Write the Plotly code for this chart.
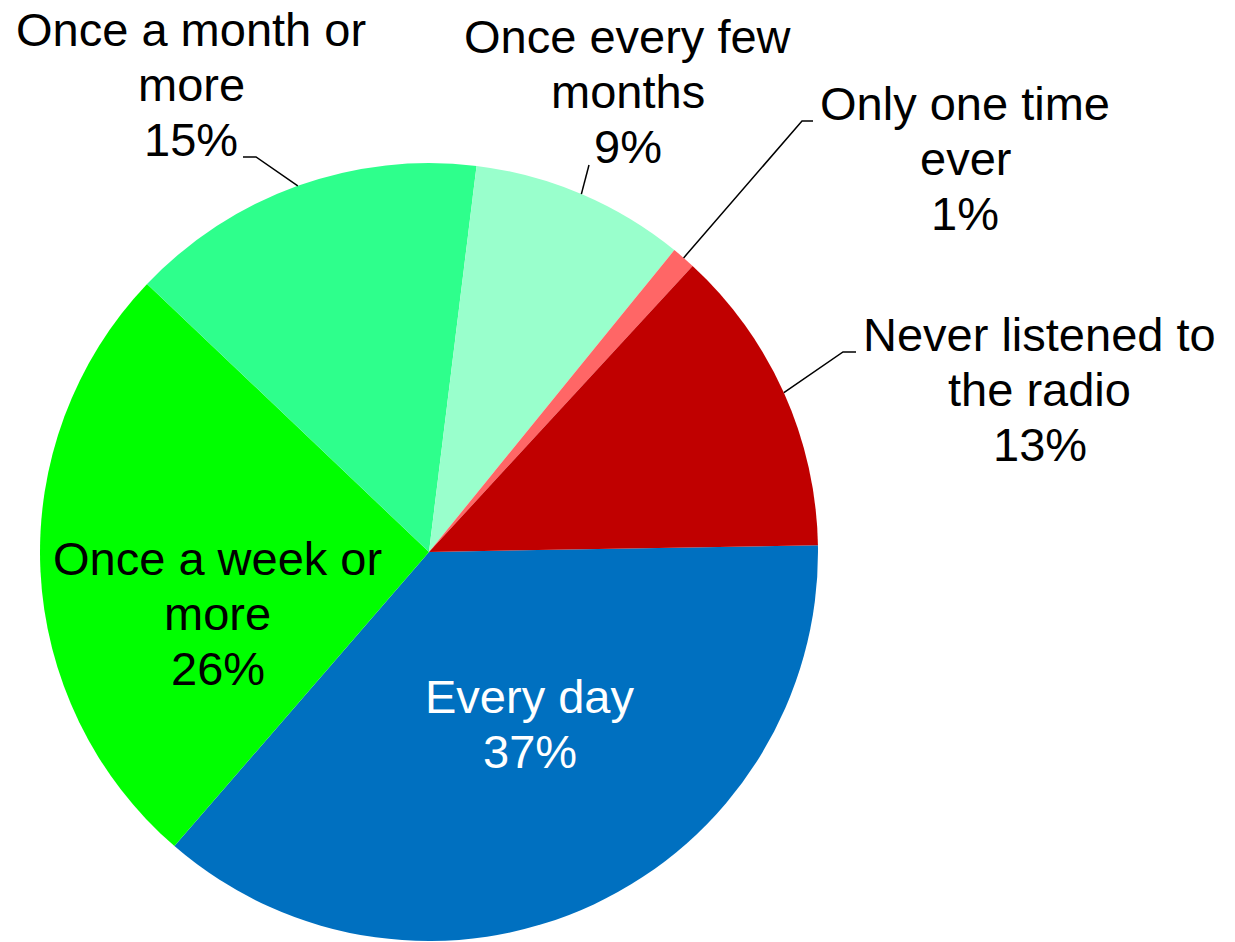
import math
import plotly.graph_objects as go

# Survey answers, clockwise from 3 o'clock
categories = [
    "Every day",
    "Once a week or more",
    "Once a month or more",
    "Once every few months",
    "Only one time ever",
    "Never listened to the radio",
]
shares = [37, 26, 15, 9, 1, 13]
colors = ["#0070C0", "#00FF00", "#2EFF8C", "#99FFCC", "#FF6666", "#C00000"]

# ---- layout (pixels in a 1235 x 942 canvas) ----
W, H = 1235, 942
CX, CY, R = 429, 552, 389          # pie centre and radius
ROTATION = 89                      # start angle of the first slice, clockwise from 12 o'clock
FONT = "Liberation Sans, Arial, Helvetica, sans-serif"
FS = 47
LINE_STEP = 55

wrapped = {
    "Every day": ["Every day"],
    "Once a week or more": ["Once a week or", "more"],
    "Once a month or more": ["Once a month or", "more"],
    "Once every few months": ["Once every few", "months"],
    "Only one time ever": ["Only one time", "ever"],
    "Never listened to the radio": ["Never listened to", "the radio"],
}
# label centre x and first-line baseline y
label_pos = {
    "Every day": (529.5, 713),
    "Once a week or more": (217.5, 575),
    "Once a month or more": (191, 46),
    "Once every few months": (627.5, 53),
    "Only one time ever": (965, 120),
    "Never listened to the radio": (1039.5, 351),
}
text_color = {"Every day": "white"}
# leader-line start points near each outside label (stub, then line to slice edge)
leader_stub = {
    "Once a month or more": [(243, 157), (256, 157)],
    "Once every few months": [(589, 165)],
    "Only one time ever": [(813, 121), (802, 121)],
    "Never listened to the radio": [(856, 352), (843, 352)],
}


def px(x):
    return x / W


def py(y):
    return 1 - y / H


fig = go.Figure(
    go.Pie(
        labels=categories,
        values=shares,
        sort=False,
        direction="clockwise",
        rotation=ROTATION,
        marker=dict(colors=colors, line=dict(width=0)),
        textinfo="none",
        hoverinfo="label+percent",
        domain=dict(x=[px(CX - R), px(CX + R)], y=[py(CY + R), py(CY - R)]),
        showlegend=False,
    )
)

total = sum(shares)
annotations = []
shapes = []
cum = 0.0
for cat, v in zip(categories, shares):
    a0 = ROTATION + 360 * cum / total
    cum += v
    a1 = ROTATION + 360 * cum / total
    mid = math.radians((a0 + a1) / 2)
    edge = (CX + R * math.sin(mid), CY - R * math.cos(mid))

    pct = f"{round(100 * v / total)}%"
    lines = wrapped[cat] + [pct]
    x0, b0 = label_pos[cat]
    for i, line in enumerate(lines):
        baseline = b0 + i * LINE_STEP
        annotations.append(
            dict(
                x=px(x0), y=py(baseline - 0.347 * FS),
                xref="paper", yref="paper",
                text=line, showarrow=False,
                xanchor="center", yanchor="middle",
                font=dict(family=FONT, size=FS, color=text_color.get(cat, "black")),
            )
        )

    if cat in leader_stub:
        pts = leader_stub[cat] + [edge]
        path = "M " + " L ".join(f"{px(x):.5f},{py(y):.5f}" for x, y in pts)
        shapes.append(
            dict(type="path", path=path, xref="paper", yref="paper",
                 line=dict(color="black", width=1.5))
        )

fig.update_layout(
    width=W, height=H,
    margin=dict(l=0, r=0, t=0, b=0),
    paper_bgcolor="white",
    plot_bgcolor="white",
    annotations=annotations,
    shapes=shapes,
    showlegend=False,
)

fig.write_html("out.html")
